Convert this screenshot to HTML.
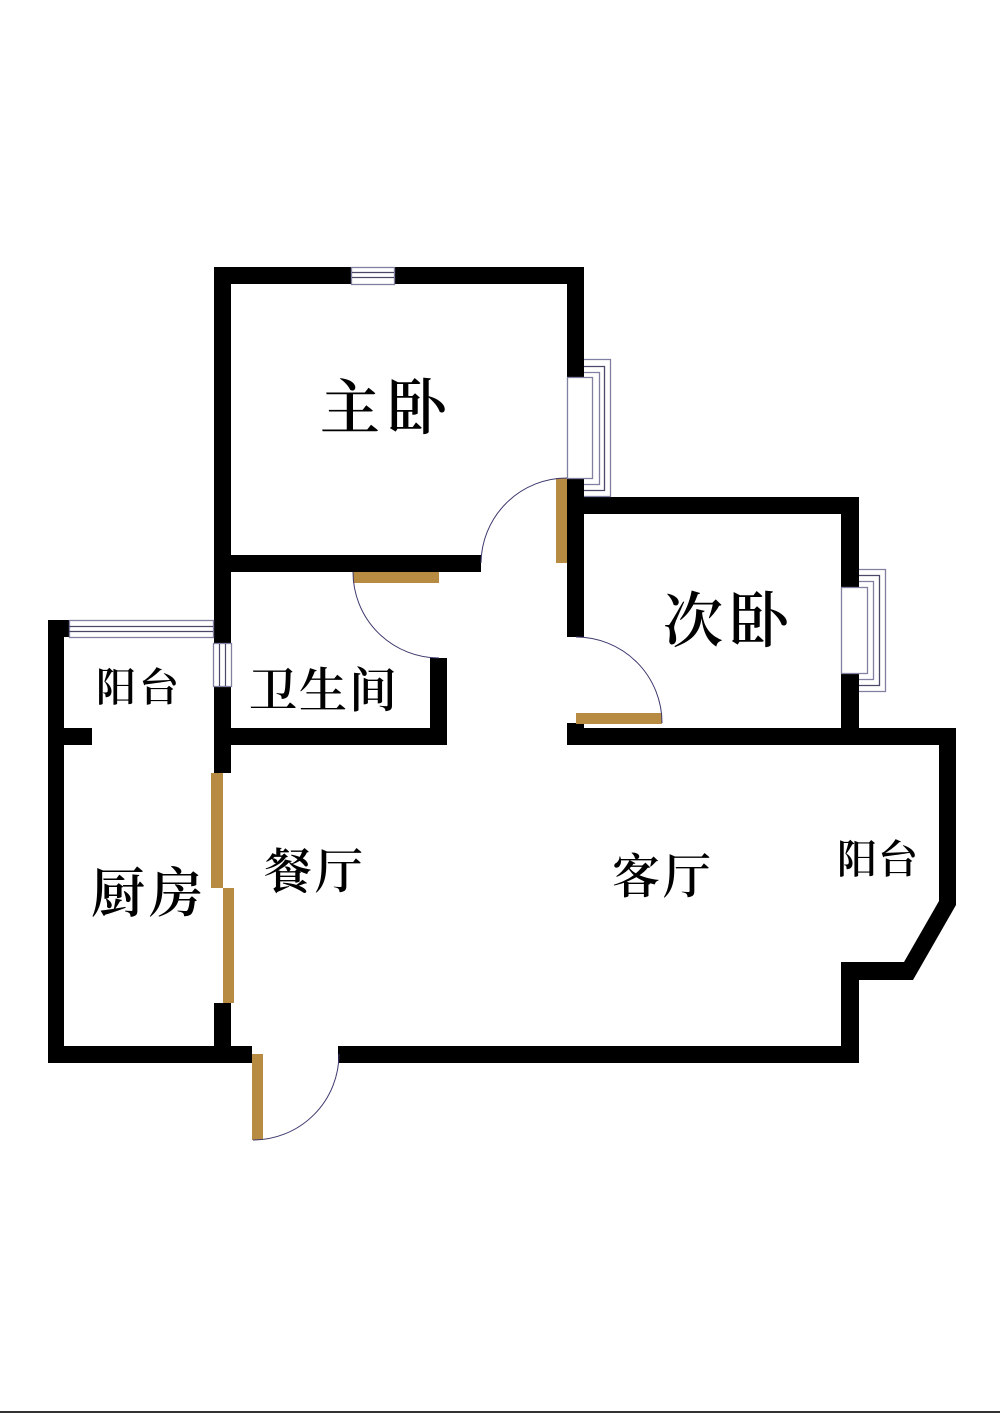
<!DOCTYPE html>
<html>
<head>
<meta charset="utf-8">
<style>
html,body{margin:0;padding:0;background:#fff;width:1000px;height:1413px;overflow:hidden}
svg{display:block}
text{font-family:"Liberation Serif","Noto Serif CJK SC","Noto Sans CJK SC",serif;fill:#000;font-weight:600}
</style>
</head>
<body>
<svg width="1000" height="1413" viewBox="0 0 1000 1413" xmlns="http://www.w3.org/2000/svg">
<rect width="1000" height="1413" fill="#fff"/>
<rect x="0" y="1411" width="1000" height="2" fill="#333"/>

<!-- walls -->
<g fill="#000">
<rect x="215" y="267" width="369" height="17"/>
<rect x="567" y="267" width="17" height="370"/>
<rect x="214" y="267" width="17" height="376"/>
<rect x="214" y="686" width="17" height="87"/>
<rect x="214" y="555" width="267" height="17"/>
<rect x="214" y="728" width="233" height="17"/>
<rect x="430" y="658" width="17" height="87"/>
<rect x="48" y="620" width="16" height="443"/>
<rect x="48" y="620" width="21" height="17"/>
<rect x="48" y="728" width="44" height="17"/>
<rect x="567" y="497" width="292" height="17"/>
<rect x="841" y="497" width="18" height="90"/>
<rect x="841" y="673" width="18" height="60"/>
<rect x="567" y="723" width="17" height="10"/>
<rect x="567" y="728" width="389" height="17"/>
<rect x="214" y="1003" width="17" height="50"/>
<rect x="48" y="1046" width="204" height="17"/>
<rect x="338" y="1046" width="521" height="17"/>
<polygon points="939,728 956,728 956,905 913,980 859,980 859,1063 841,1063 841,962 904,962 939,901"/>
</g>

<!-- brown door leaves -->
<g fill="#b88b42">
<rect x="556" y="478" width="11" height="85"/>
<rect x="353" y="572" width="86" height="11"/>
<rect x="576" y="713" width="86" height="11"/>
<rect x="211" y="773" width="12" height="115"/>
<rect x="223" y="888" width="11" height="115"/>
<rect x="252" y="1054" width="11" height="86"/>
</g>

<!-- door arcs -->
<g fill="none" stroke="#3c3a6e" stroke-width="1">
<path d="M567 478 A86 86 0 0 0 481 563"/>
<path d="M353 572 A86 86 0 0 0 439 658"/>
<path d="M576 637 A86 86 0 0 1 662 723"/>
<path d="M253 1140 A86 86 0 0 0 339 1054"/>
</g>

<!-- windows -->
<g fill="#fff" stroke="#8080a0" stroke-width="1.300">
<rect x="351.500" y="267.500" width="43" height="17"/>
<rect x="69.500" y="620.500" width="144" height="17"/>
<rect x="213.500" y="643.500" width="18" height="43"/>

<path fill="none" d="M584 359.500H610.500V496.500H584"/>
<path fill="none" stroke="#4a4a68" d="M584 366.500H604.500V490.500H584"/>
<path fill="none" d="M584 372.500H599.500V484.500H584"/>
<rect x="567.500" y="377.500" width="25" height="101"/>

<path fill="none" d="M859 569.500H885.500V691.500H859"/>
<path fill="none" stroke="#4a4a68" d="M859 575.500H879.500V685.500H859"/>
<path fill="none" d="M859 581.500H873.500V679.500H859"/>
<rect x="841.500" y="587.500" width="26" height="86"/>
</g>
<g fill="none" stroke="#4a4a68" stroke-width="1.200">
<path d="M352 272.500H394M352 277.500H394"/>
<path d="M69 626.500H213M69 631.500H213"/>
<path d="M219.500 644V686M225.500 644V686"/>
</g>

<!-- labels -->
<text x="320" y="429" font-size="60" textLength="127" lengthAdjust="spacing">主卧</text>
<text x="663" y="642" font-size="60" textLength="126" lengthAdjust="spacing">次卧</text>
<text x="249" y="707" font-size="48" textLength="148" lengthAdjust="spacing">卫生间</text>
<text x="96" y="701" font-size="40" textLength="83" lengthAdjust="spacing">阳台</text>
<text x="91" y="912" font-size="54" textLength="112" lengthAdjust="spacing">厨房</text>
<text x="264" y="888" font-size="48" textLength="99" lengthAdjust="spacing">餐厅</text>
<text x="612" y="893" font-size="48" textLength="99" lengthAdjust="spacing">客厅</text>
<text x="837" y="873" font-size="40" textLength="81" lengthAdjust="spacing">阳台</text>
</svg>
</body>
</html>
